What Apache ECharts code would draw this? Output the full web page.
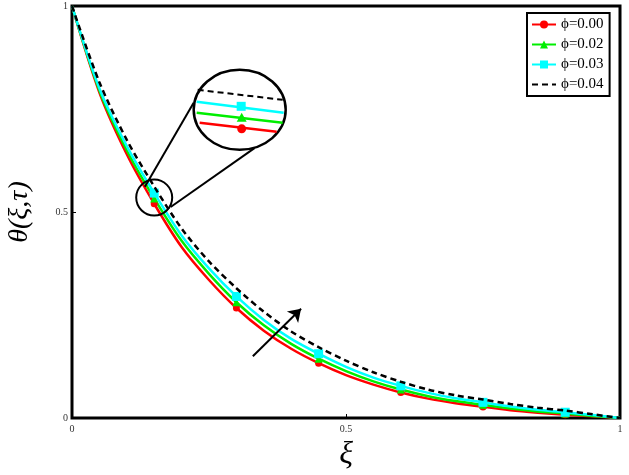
<!DOCTYPE html>
<html>
<head>
<meta charset="utf-8">
<script src="https://cdn.jsdelivr.net/npm/echarts@6/dist/echarts.min.js"></script>
<style>
  html, body { margin: 0; padding: 0; background: #fff; }
  #main { width: 629px; height: 475px; }
</style>
</head>
<body>
<div id="main"></div>
<script>
// 横坐标 ξ 与各条曲线的取值
const xs = [0, 0.05, 0.1, 0.15, 0.2, 0.25, 0.3, 0.35, 0.4, 0.45, 0.5, 0.55, 0.6, 0.65, 0.7, 0.75, 0.8, 0.85, 0.9, 0.95, 1]
const phi000 = [1, 0.79, 0.64, 0.52, 0.415, 0.335, 0.267, 0.212, 0.168, 0.133, 0.104, 0.081, 0.062, 0.047, 0.036, 0.027, 0.019, 0.013, 0.008, 0.004, 0]
const phi002 = [1, 0.795, 0.65, 0.533, 0.43, 0.35, 0.281, 0.225, 0.18, 0.144, 0.114, 0.089, 0.069, 0.053, 0.041, 0.032, 0.023, 0.016, 0.011, 0.005, 0]
const phi003 = [1, 0.80, 0.66, 0.546, 0.443, 0.363, 0.295, 0.238, 0.192, 0.156, 0.124, 0.098, 0.078, 0.061, 0.048, 0.038, 0.028, 0.020, 0.014, 0.007, 0]
const phi004 = [1, 0.815, 0.675, 0.562, 0.46, 0.38, 0.315, 0.258, 0.21, 0.172, 0.139, 0.111, 0.088, 0.069, 0.055, 0.045, 0.034, 0.025, 0.018, 0.009, 0]
const names = ['ϕ=0.00', 'ϕ=0.02', 'ϕ=0.03', 'ϕ=0.04']
const markerX = [0.15, 0.3, 0.45, 0.6, 0.75, 0.9]
const xTicks = [0, 0.5, 1]
const yTicks = [0, 0.5, 1]

const serif = 'Liberation Serif'
const chart = echarts.init(document.getElementById('main'))

function makeData (ys, marked) {
  return ys.map(function (y, i) {
    const on = marked && markerX.indexOf(xs[i]) >= 0
    return { value: [xs[i], y], symbol: on ? undefined : 'none' }
  })
}

function lineSeries (name, ys, color, symbol, size, dashed) {
  return {
    name: name,
    type: 'line',
    data: makeData(ys, !dashed),
    symbol: dashed ? 'none' : symbol,
    symbolSize: size,
    showAllSymbol: true,
    smooth: 0.3,
    lineStyle: { color: color, width: 2.5, type: dashed ? [6, 4] : 'solid' },
    itemStyle: { color: color },
    z: dashed ? 5 : 3
  }
}

const option = {
  animation: false,
  backgroundColor: '#fff',
  grid: {
    left: 72, right: 9, top: 6, bottom: 57,
    outerBoundsMode: 'none',
    containLabel: false,
    show: true,
    borderColor: '#000',
    borderWidth: 3
  },
  legend: {
    orient: 'vertical',
    left: 527,
    top: 13,
    padding: [4, 6, 4, 4],
    itemGap: 5,
    itemWidth: 24,
    itemHeight: 10,
    borderColor: '#000',
    borderWidth: 2,
    backgroundColor: '#fff',
    textStyle: { fontFamily: serif, fontSize: 15, color: '#000' },
    data: [
      names[0], names[1], names[2],
      { name: names[3], itemStyle: { color: 'rgba(0,0,0,0)', borderWidth: 0 } }
    ]
  },
  xAxis: {
    type: 'value',
    min: 0, max: 1, interval: 0.5,
    name: 'ξ',
    nameLocation: 'middle',
    nameGap: 16,
    nameTextStyle: { fontFamily: serif, fontStyle: 'italic', fontSize: 32, color: '#000' },
    axisLine: { show: false },
    axisTick: { show: true, inside: true, length: 4, lineStyle: { color: '#000' } },
    splitLine: { show: false },
    axisLabel: {
      fontFamily: serif, fontSize: 10, color: '#333', margin: 6,
      formatter: function (v) { return xTicks.indexOf(v) >= 0 ? String(v) : '' }
    }
  },
  yAxis: {
    type: 'value',
    min: 0, max: 1, interval: 0.5,
    name: 'θ(ξ,τ)',
    nameLocation: 'middle',
    nameGap: 38,
    nameTextStyle: { fontFamily: serif, fontStyle: 'italic', fontSize: 28, color: '#000' },
    axisLine: { show: false },
    axisTick: { show: true, inside: true, length: 4, lineStyle: { color: '#000' } },
    splitLine: { show: false },
    axisLabel: {
      fontFamily: serif, fontSize: 10, color: '#333', margin: 4,
      formatter: function (v) { return yTicks.indexOf(v) >= 0 ? String(v) : '' }
    }
  },
  series: [
    lineSeries(names[0], phi000, '#ff0000', 'circle', 7, false),
    lineSeries(names[1], phi002, '#00ee00', 'triangle', 8, false),
    lineSeries(names[2], phi003, '#00ffff', 'rect', 9, false),
    lineSeries(names[3], phi004, '#000000', 'none', 0, true),
    {
      // 放大镜连线和箭头
      type: 'line',
      data: [],
      silent: true,
      markLine: {
        silent: true,
        animation: false,
        symbol: ['none', 'none'],
        label: { show: false },
        lineStyle: { color: '#000', width: 2, type: 'solid' },
        data: [
          [{ coord: [0.133, 0.561] }, { coord: [0.222, 0.765] }],
          [{ coord: [0.18, 0.512] }, { coord: [0.333, 0.655] }],
          [{ coord: [0.33, 0.15], symbol: 'none' }, { coord: [0.418, 0.265], symbol: 'arrow', symbolSize: 12 }]
        ]
      }
    }
  ]
}
chart.setOption(option)

// 放大镜图形：小圆和大椭圆（位置由数据坐标换算）
const small = chart.convertToPixel({ gridIndex: 0 }, [0.15, 0.535])
const big = chart.convertToPixel({ gridIndex: 0 }, [0.306, 0.748])
chart.setOption({
  graphic: [
    {
      type: 'circle',
      shape: { cx: small[0], cy: small[1], r: 18 },
      style: { fill: 'none', stroke: '#000', lineWidth: 2 },
      z: 20
    },
    {
      type: 'group',
      x: big[0], y: big[1],
      z: 20,
      children: [
        { type: 'ellipse', shape: { cx: 0, cy: 0, rx: 46, ry: 40 }, style: { fill: '#fff', stroke: '#000', lineWidth: 2.5 } },
        { type: 'line', shape: { x1: -42, y1: -20, x2: 43, y2: -10 }, style: { stroke: '#000', lineWidth: 2, lineDash: [6, 4] }, z2: 2 },
        { type: 'line', shape: { x1: -43, y1: -8, x2: 44, y2: 3 }, style: { stroke: '#00ffff', lineWidth: 2.5 }, z2: 2 },
        { type: 'line', shape: { x1: -43, y1: 3, x2: 43, y2: 13 }, style: { stroke: '#00ee00', lineWidth: 2.5 }, z2: 2 },
        { type: 'line', shape: { x1: -40, y1: 13, x2: 37, y2: 22 }, style: { stroke: '#ff0000', lineWidth: 2.5 }, z2: 2 },
        { type: 'rect', shape: { x: -3, y: -8, width: 9, height: 9 }, style: { fill: '#00ffff' }, z2: 3 },
        { type: 'polygon', shape: { points: [[2, 3], [-3, 12], [7, 12]] }, style: { fill: '#00ee00' }, z2: 3 },
        { type: 'circle', shape: { cx: 2, cy: 19, r: 4.5 }, style: { fill: '#ff0000' }, z2: 3 }
      ]
    }
  ]
})
</script>
</body>
</html>
